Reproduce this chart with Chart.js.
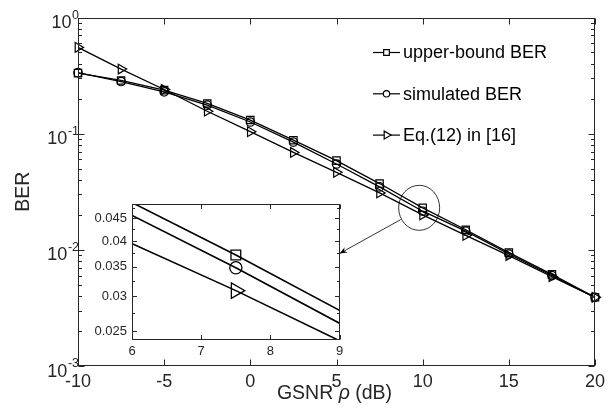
<!DOCTYPE html>
<html>
<head>
<meta charset="UTF-8">
<title>BER vs GSNR</title>
<script src="https://cdn.jsdelivr.net/npm/chart.js"></script>
<style>
  body { margin: 0; background: #fff; }
  #wrap { position: relative; width: 616px; height: 412px; }
  #mainChart { position: absolute; left: 0; top: 0; }
  #insetChart { position: absolute; left: 80px; top: 190px; }
</style>
</head>
<body>
<div id="wrap">
  <canvas id="mainChart" width="616" height="412"></canvas>
  <canvas id="insetChart" width="270" height="175"></canvas>
</div>
<script>
// data
const snrDb = [-10, -7.5, -5, -2.5, 0, 2.5, 5, 7.5, 10, 12.5, 15, 17.5, 20];
const upperBoundBer = [0.332, 0.287, 0.237, 0.182, 0.131, 0.0879, 0.0586, 0.0372, 0.0230, 0.0149, 0.00946, 0.00615, 0.0039];
const simulatedBer  = [0.335, 0.281, 0.229, 0.176, 0.126, 0.0846, 0.0548, 0.0348, 0.0215, 0.0145, 0.0092, 0.0060, 0.0039];
const eq12Ber       = [0.553, 0.360, 0.240, 0.156, 0.104, 0.0689, 0.0465, 0.0309, 0.0200, 0.0133, 0.00893, 0.00587, 0.0039];
const seriesNames = ['upper-bound BER', 'simulated BER', 'Eq.(12) in [16]'];

const xTicks = [-10, -5, 0, 5, 10, 15, 20];
const yDecades = [0, -1, -2, -3];
const insetXTicks = [6, 7, 8, 9];
const insetYTicks = ['0.025', '0.03', '0.035', '0.04', '0.045'];
const insetYMinor = [0.0275, 0.0325, 0.0375, 0.0425, 0.0475];

const FONT = "'Liberation Sans', Arial, Helvetica, sans-serif";
const axisColor = '#262626';
Chart.defaults.font.family = FONT;

const markers = [
  { style: 'rect', rot: 0, r: 5.2, rInset: 6.9, rLeg: 4 },
  { style: 'circle', rot: 0, r: 4.2, rInset: 6.1, rLeg: 3.2 },
  { style: 'triangle', rot: 90, r: 5.6, rInset: 9, rLeg: 4.6 }
];
const allSeries = [upperBoundBer, simulatedBer, eq12Ber];

function toPts(arr) {
  return snrDb.map((x, i) => ({ x: x, y: arr[i] }));
}

function makeSets(inset) {
  return allSeries.map((arr, i) => ({
    label: seriesNames[i],
    data: toPts(arr),
    borderColor: '#000',
    borderWidth: inset ? 1.6 : 1.3,
    pointStyle: markers[i].style,
    pointRotation: markers[i].rot,
    pointRadius: inset ? markers[i].rInset : markers[i].r,
    pointBorderColor: '#000',
    pointBorderWidth: inset ? 1.3 : 1.2,
    pointBackgroundColor: 'rgba(0,0,0,0)',
    tension: 0,
    clip: inset ? 0 : 8
  }));
}

// box with inward ticks, matlab style
function frameAndTicks(chart, xt, yMaj, yMin, major, minor) {
  const { ctx, chartArea: a, scales: { x, y } } = chart;
  ctx.save();
  ctx.strokeStyle = axisColor;
  ctx.lineWidth = 1;
  const L = Math.round(a.left) + 0.5, R = Math.round(a.right) - 0.5;
  const T = Math.round(a.top) + 0.5, B = Math.round(a.bottom) - 0.5;
  ctx.strokeRect(L, T, R - L, B - T);
  ctx.beginPath();
  xt.forEach(v => {
    const p = Math.round(x.getPixelForValue(v)) + 0.5;
    ctx.moveTo(p, B); ctx.lineTo(p, B - major);
    ctx.moveTo(p, T); ctx.lineTo(p, T + major);
  });
  const yt = (v, len) => {
    const p = Math.round(y.getPixelForValue(v)) + 0.5;
    ctx.moveTo(L, p); ctx.lineTo(L + len, p);
    ctx.moveTo(R, p); ctx.lineTo(R - len, p);
  };
  yMaj.forEach(v => yt(v, major));
  yMin.forEach(v => yt(v, minor));
  ctx.stroke();
  ctx.restore();
}

// ---------- inset ----------
const insetPlugin = {
  id: 'insetDeco',
  beforeDatasetsDraw(chart) {
    const { ctx, chartArea: a } = chart;
    ctx.save();
    ctx.fillStyle = '#fff';
    ctx.fillRect(a.left, a.top, a.right - a.left, a.bottom - a.top);
    ctx.restore();
  },
  afterDraw(chart) {
    const { ctx, chartArea: a, scales: { x, y } } = chart;
    frameAndTicks(chart, insetXTicks, insetYTicks.map(Number), insetYMinor, 4.5, 2.5);
    ctx.save();
    ctx.fillStyle = axisColor;
    ctx.font = '13px ' + FONT;
    ctx.textAlign = 'right';
    ctx.textBaseline = 'middle';
    insetYTicks.forEach(t => ctx.fillText(t, a.left - 5, y.getPixelForValue(Number(t))));
    ctx.textAlign = 'center';
    insetXTicks.forEach(t => ctx.fillText(String(t), x.getPixelForValue(t), a.bottom + 11));
    ctx.restore();
  }
};

const insetChart = new Chart(document.getElementById('insetChart'), {
  type: 'line',
  data: { datasets: makeSets(true) },
  options: {
    responsive: false,
    animation: false,
    layout: { padding: { left: 52, right: 9, top: 14, bottom: 25 } },
    scales: {
      x: { type: 'linear', min: 6, max: 9, display: false },
      y: { type: 'logarithmic', min: 0.0239, max: 0.0485, display: false }
    },
    plugins: { legend: { display: false }, tooltip: { enabled: false } }
  },
  plugins: [insetPlugin]
});

// ---------- main ----------
const yMinorMain = [];
for (let e = -3; e < 0; e++) {
  for (let k = 2; k <= 9; k++) yMinorMain.push(k * Math.pow(10, e));
}

const mainPlugin = {
  id: 'mainDeco',
  afterDraw(chart) {
    const { ctx, chartArea: a, scales: { x, y } } = chart;
    frameAndTicks(chart, xTicks, yDecades.map(e => Math.pow(10, e)), yMinorMain, 6, 3.5);

    // y tick labels 10^n
    ctx.save();
    ctx.fillStyle = axisColor;
    ctx.textAlign = 'right';
    ctx.textBaseline = 'alphabetic';
    yDecades.forEach(e => {
      const py = y.getPixelForValue(Math.pow(10, e));
      const xr = a.left + 1;
      ctx.font = '12.5px ' + FONT;
      const expTxt = String(e);
      const w = ctx.measureText(expTxt).width;
      ctx.fillText(expTxt, xr, py + 1);
      ctx.font = '18px ' + FONT;
      ctx.fillText('10', xr - w - 0.5, py + 10.5);
    });

    // x axis title with italic rho
    const parts = [['GSNR ', ''], ['ρ', 'italic '], [' (dB)', '']];
    let total = 0;
    parts.forEach(p => { ctx.font = p[1] + '19.5px ' + FONT; total += ctx.measureText(p[0]).width; });
    let tx = (a.left + a.right) / 2 - 2 - total / 2;
    ctx.textAlign = 'left';
    ctx.textBaseline = 'middle';
    parts.forEach(p => {
      ctx.font = p[1] + '19.5px ' + FONT;
      ctx.fillText(p[0], tx, 394);
      tx += ctx.measureText(p[0]).width;
    });
    ctx.restore();

    // legend (no box)
    ctx.save();
    chart.data.datasets.forEach((ds, i) => {
      const ly = 52.5 + i * 41.3;
      ctx.strokeStyle = '#000';
      ctx.lineWidth = 1.2;
      ctx.beginPath();
      ctx.moveTo(373, ly); ctx.lineTo(400, ly);
      ctx.stroke();
      ctx.fillStyle = '#fff';
      Chart.helpers.drawPoint(ctx, { pointStyle: markers[i].style, rotation: markers[i].rot, radius: markers[i].rLeg, borderWidth: 1.1 }, 386.5, ly);
      ctx.fillStyle = '#000';
      ctx.font = '18px ' + FONT;
      ctx.textAlign = 'left';
      ctx.textBaseline = 'middle';
      ctx.fillText(ds.label, 403, ly + 1);
    });
    ctx.restore();

    // zoom ellipse around 10 dB and arrow to inset
    const cx = x.getPixelForValue(10) - 3.5;
    const cy = y.getPixelForValue(0.023);
    ctx.save();
    ctx.strokeStyle = '#000';
    ctx.fillStyle = '#000';
    ctx.lineWidth = 0.8;
    ctx.beginPath();
    ctx.ellipse(cx, cy, 20.5, 22.5, 0, 0, Math.PI * 2);
    ctx.stroke();
    const sx = cx - 18.5, sy = cy + 11.8;
    const ex = 80 + insetChart.chartArea.right;
    const ey = 190 + insetChart.scales.y.getPixelForValue(0.0375);
    ctx.beginPath();
    ctx.moveTo(sx, sy); ctx.lineTo(ex, ey);
    ctx.stroke();
    const ang = Math.atan2(ey - sy, ex - sx);
    const hl = 8, hw = 0.4;
    ctx.beginPath();
    ctx.moveTo(ex, ey);
    ctx.lineTo(ex - hl * Math.cos(ang - hw), ey - hl * Math.sin(ang - hw));
    ctx.lineTo(ex - hl * 0.6 * Math.cos(ang), ey - hl * 0.6 * Math.sin(ang));
    ctx.lineTo(ex - hl * Math.cos(ang + hw), ey - hl * Math.sin(ang + hw));
    ctx.closePath();
    ctx.fill();
    ctx.restore();
  }
};

new Chart(document.getElementById('mainChart'), {
  type: 'line',
  data: { datasets: makeSets(false) },
  options: {
    responsive: false,
    animation: false,
    layout: { padding: { left: 0, right: 21, top: 17.5, bottom: 0 } },
    scales: {
      x: {
        type: 'linear', min: -10, max: 20,
        grid: { display: false }, border: { display: false },
        ticks: { stepSize: 5, maxRotation: 0, autoSkip: false, padding: -3, color: axisColor, font: { size: 18 } },
        afterFit(s) { s.height = 46; }
      },
      y: {
        type: 'logarithmic', min: 0.001, max: 1,
        grid: { display: false }, border: { display: false },
        ticks: { display: false },
        title: { display: true, text: 'BER', color: axisColor, font: { size: 19.5 }, padding: { top: 12, bottom: 0 } },
        afterFit(s) { s.width = 78; }
      }
    },
    plugins: { legend: { display: false }, tooltip: { enabled: false } }
  },
  plugins: [mainPlugin]
});
</script>
</body>
</html>
